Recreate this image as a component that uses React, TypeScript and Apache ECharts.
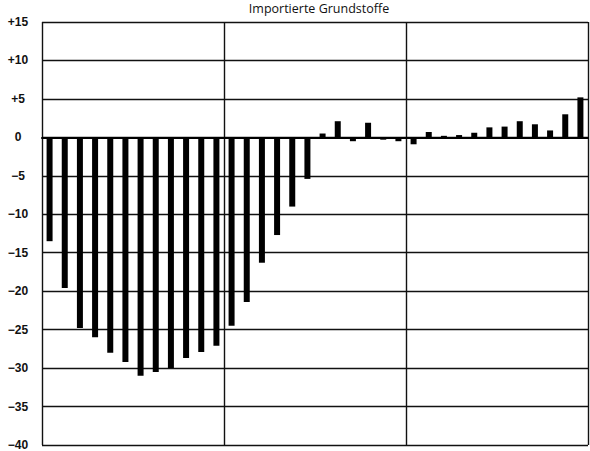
import React, { useEffect, useRef } from "react";
import * as echarts from "echarts";

const title = "Importierte Grundstoffe";
const monthNames = ["Jan", "Feb", "Mär", "Apr", "Mai", "Jun", "Jul", "Aug", "Sep", "Okt", "Nov", "Dez"];
const periods = ["Jahr 1", "Jahr 2", "Jahr 3"];
const categories = periods.flatMap((p) => monthNames.map((m) => `${m} ${p}`));

const valuesYear1 = [-13.5, -19.6, -24.8, -26.0, -28.0, -29.2, -31.0, -30.5, -30.0, -28.7, -27.9, -27.1];
const valuesYear2 = [-24.5, -21.4, -16.3, -12.7, -9.0, -5.4, 0.5, 2.1, -0.5, 1.9, -0.3, -0.5];
const valuesYear3 = [-0.9, 0.7, 0.2, 0.3, 0.6, 1.3, 1.4, 2.1, 1.7, 0.9, 3.0, 5.2];
const values = [...valuesYear1, ...valuesYear2, ...valuesYear3];

const yMin = -40;
const yMax = 15;
const yStep = 5;

export default function App() {
  const ref = useRef<HTMLDivElement>(null);
  useEffect(() => {
    document.body.style.margin = "0";
    if (!ref.current) return;
    const chart = echarts.init(ref.current, undefined, { renderer: "svg" });
    const lineStyle = { color: "#111", width: 1.4 };
    chart.setOption({
      animation: false,
      backgroundColor: "#fff",
      title: {
        text: title,
        left: 314,
        textAlign: "center",
        top: -3,
        textStyle: { fontFamily: "Open Sans", fontSize: 12.5, fontWeight: "normal", color: "#111" },
      },
      grid: { left: 42, right: 2, top: 22, bottom: 4, show: false },
      xAxis: [
        {
          type: "category",
          data: categories,
          axisLine: { show: true, onZero: true, lineStyle: { color: "#000", width: 2 } },
          axisTick: { show: false },
          axisLabel: { show: false },
          splitLine: { show: false },
        },
        {
          type: "value",
          min: 0,
          max: categories.length,
          interval: 12,
          axisLine: { show: false },
          axisTick: { show: false },
          axisLabel: { show: false },
          splitLine: { show: true, lineStyle },
        },
      ],
      yAxis: {
        type: "value",
        min: yMin,
        max: yMax,
        interval: yStep,
        axisLine: { show: false },
        axisTick: { show: false },
        splitLine: { show: true, lineStyle },
        axisLabel: {
          align: "center",
          margin: 24,
          fontFamily: "Liberation Sans",
          fontSize: 12,
          fontWeight: "bold",
          color: "#111",
          formatter: (v: number) => (v > 0 ? `+${v}` : v < 0 ? `\u2212${Math.abs(v)}` : "0"),
        },
      },
      series: [
        {
          type: "bar",
          data: values,
          xAxisIndex: 0,
          barWidth: 6,
          itemStyle: { color: "#000" },
        },
      ],
    });
    return () => chart.dispose();
  }, []);
  return <div ref={ref} style={{ width: 590, height: 451 }} />;
}
